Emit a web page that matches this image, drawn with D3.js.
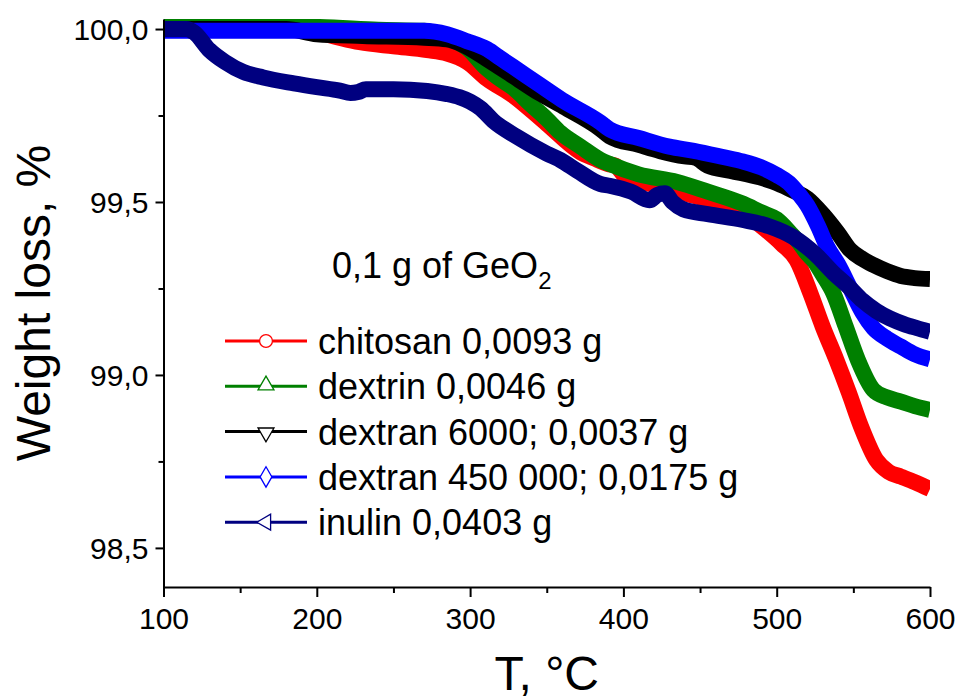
<!DOCTYPE html>
<html><head><meta charset="utf-8">
<script src="https://cdn.jsdelivr.net/npm/d3@7"></script>
<style>
html,body{margin:0;padding:0;background:#fff;}
svg{display:block;font-family:"Liberation Sans",Arial,sans-serif;}
</style></head>
<body>
<svg id="chart" width="960" height="699"></svg>
<script>
// ---- data ----
const chitosanT = [100,150,195,210,228,250,272,285,298,311,328,350,372,381,390,395,402,420,440,460,478,490,503,513,522,530,539,547,555,565,573,581,590,600];
const chitosanV = [100.0,100.0,99.995,99.98,99.962,99.95,99.939,99.929,99.905,99.856,99.808,99.726,99.644,99.626,99.61,99.605,99.57,99.55,99.525,99.5,99.47,99.43,99.38,99.332,99.236,99.14,99.043,98.95,98.851,98.754,98.72,98.706,98.69,98.67];

const dextrinT = [100,200,240,270,285,298,311,318,328,340,350,359,372,385,391,410,435,455,478,490,500,509,515,520,524,530,537,545,553,563,572,581,590,600];
const dextrinV = [100.008,100.006,99.998,99.995,99.975,99.945,99.885,99.86,99.83,99.78,99.74,99.7,99.66,99.622,99.61,99.58,99.558,99.53,99.495,99.47,99.45,99.41,99.38,99.35,99.332,99.29,99.236,99.14,99.043,98.957,98.935,98.923,98.91,98.899];

const dextran6000T = [100,180,200,230,270,285,295,311,328,345,361,385,391,410,424,440,447,455,470,489,500,511,520,530,540,548,556,563,572,581,590,600];
const dextran6000V = [100.0,100.0,99.985,99.98,99.975,99.97,99.955,99.913,99.864,99.815,99.775,99.711,99.69,99.665,99.647,99.632,99.628,99.605,99.59,99.571,99.555,99.532,99.51,99.465,99.41,99.361,99.335,99.318,99.3,99.286,99.28,99.277];

const dextran450T = [100,200,270,285,298,311,320,328,345,360,385,391,410,430,446,465,478,490,500,508,515,520,527,533,540,548,556,563,572,581,590,600];
const dextran450V = [99.995,99.995,99.995,99.985,99.965,99.942,99.915,99.891,99.84,99.795,99.73,99.71,99.685,99.66,99.648,99.63,99.617,99.6,99.578,99.555,99.52,99.49,99.43,99.37,99.32,99.25,99.18,99.136,99.105,99.082,99.06,99.045];

const inulinT = [100,115,120,130,140,152,165,185,200,215,222,227,232,250,272,285,293,300,307,315,330,350,359,370,385,391,405,417,422,427,432,439,455,478,495,511,525,537,547,556,565,574,583,591,600];
const inulinV = [100.0,100.0,99.99,99.939,99.905,99.876,99.86,99.843,99.832,99.822,99.815,99.818,99.826,99.826,99.821,99.812,99.803,99.79,99.77,99.735,99.69,99.64,99.621,99.59,99.552,99.547,99.53,99.505,99.52,99.525,99.5,99.479,99.465,99.448,99.43,99.398,99.35,99.295,99.255,99.215,99.185,99.163,99.147,99.136,99.125];

const seriesNames = ["chitosan 0,0093 g","dextrin 0,0046 g","dextran 6000; 0,0037 g","dextran 450 000; 0,0175 g","inulin 0,0403 g"];
const seriesColors = ["#ff0000","#008000","#000000","#0000ff","#000080"];
const seriesMarkers = ["circle","triUp","triDown","diamond","triLeft"];

const xTicks = [100,200,300,400,500,600];
const xMinorTicks = [150,250,350,450,550];
const yTicks = [98.5,99.0,99.5,100.0];
const yTickLabels = ["98,5","99,0","99,5","100,0"];
const yMinorTicks = [98.75,99.25,99.75];

const xTitle = "T, °C";
const yTitle = "Weight loss, %";

// ---- build ----
const series = [
  chitosanT.map((t,i)=>({t, v:chitosanV[i]})),
  dextrinT.map((t,i)=>({t, v:dextrinV[i]})),
  dextran6000T.map((t,i)=>({t, v:dextran6000V[i]})),
  dextran450T.map((t,i)=>({t, v:dextran450V[i]})),
  inulinT.map((t,i)=>({t, v:inulinV[i]}))
];

const L = 163.5, R = 930, T0 = 19, B = 587;
const svg = d3.select("#chart");
const x = d3.scaleLinear().domain([100,600]).range([L,R]);
const y = d3.scaleLinear().domain([98.387,100.029]).range([B,T0]);

svg.append("defs").append("clipPath").attr("id","clip")
  .append("rect").attr("x",L).attr("y",T0).attr("width",R-L).attr("height",B-T0);

const line = d3.line().x(d=>x(d.t)).y(d=>y(d.v)).curve(d3.curveMonotoneX);
const g = svg.append("g").attr("clip-path","url(#clip)");
series.forEach((s,i)=>{
  g.append("path").datum(s).attr("d",line)
    .attr("fill","none").attr("stroke",seriesColors[i])
    .attr("stroke-width",16).attr("stroke-linejoin","round");
});

// axes
const fs = 30;
svg.append("g").attr("transform",`translate(0,${B})`)
  .call(d3.axisBottom(x).tickValues(xTicks).tickSize(10).tickSizeOuter(0).tickPadding(11).tickFormat(d3.format("d")));
svg.append("g").attr("transform",`translate(0,${B})`)
  .call(d3.axisBottom(x).tickValues(xMinorTicks).tickSize(6).tickSizeOuter(0).tickFormat(""))
  .select(".domain").remove();
const yAxis = svg.append("g").attr("transform",`translate(${L},0)`)
  .call(d3.axisLeft(y).tickValues(yTicks).tickSize(8).tickSizeOuter(0).tickPadding(7).tickFormat((d,i)=>yTickLabels[i]));
svg.append("g").attr("transform",`translate(${L},0)`)
  .call(d3.axisLeft(y).tickValues(yMinorTicks).tickSize(5).tickSizeOuter(0).tickFormat(""))
  .select(".domain").remove();

svg.selectAll(".tick line, .domain").attr("stroke","#000").attr("stroke-width",2);
svg.selectAll(".tick text").attr("font-size",fs).attr("fill","#000").attr("font-family","Liberation Sans, Arial, sans-serif");
yAxis.selectAll(".tick text").attr("dy","0.36em");

// titles
svg.append("text").attr("x",(L+R)/2).attr("y",690).attr("text-anchor","middle")
  .attr("font-size",48).text(xTitle);
svg.append("text").attr("transform",`translate(50,${(T0+B)/2}) rotate(-90)`).attr("text-anchor","middle")
  .attr("font-size",48).text(yTitle);

// annotation
const ann = svg.append("text").attr("x",332).attr("y",278).attr("font-size",36);
ann.append("tspan").text("0,1 g of GeO");
ann.append("tspan").attr("font-size",24).attr("dy",11).text("2");

// legend
const lgX0 = 225, lgX1 = 307, lgY0 = 341, lgDy = 45.3;
const sym = {
  circle: d3.symbol().type(d3.symbolCircle).size(130),
  triUp: d3.symbol().type(d3.symbolTriangle).size(110),
  diamond: d3.symbol().type(d3.symbolDiamond).size(120)
};
seriesNames.forEach((name,i)=>{
  const yy = lgY0 + i*lgDy;
  const cx = (lgX0+lgX1)/2;
  const lg = svg.append("g");
  lg.append("line").attr("x1",lgX0).attr("x2",lgX1).attr("y1",yy).attr("y2",yy)
    .attr("stroke",seriesColors[i]).attr("stroke-width",3);
  const m = seriesMarkers[i];
  let p;
  if (m==="circle") p = lg.append("path").attr("d",sym.circle()).attr("transform",`translate(${cx},${yy})`);
  else if (m==="triUp") p = lg.append("path").attr("d",sym.triUp()).attr("transform",`translate(${cx},${yy-1})`);
  else if (m==="triDown") p = lg.append("path").attr("d",sym.triUp()).attr("transform",`translate(${cx},${yy+1}) rotate(180)`);
  else if (m==="diamond") p = lg.append("path").attr("d",sym.diamond()).attr("transform",`translate(${cx},${yy})`);
  else p = lg.append("path").attr("d",sym.triUp()).attr("transform",`translate(${cx},${yy}) rotate(-90)`);
  p.attr("fill","#fff").attr("stroke",seriesColors[i]).attr("stroke-width",1.3);
  lg.append("text").attr("x",318).attr("y",yy).attr("dy","0.36em").attr("font-size",36).text(name);
});
</script>
</body></html>
